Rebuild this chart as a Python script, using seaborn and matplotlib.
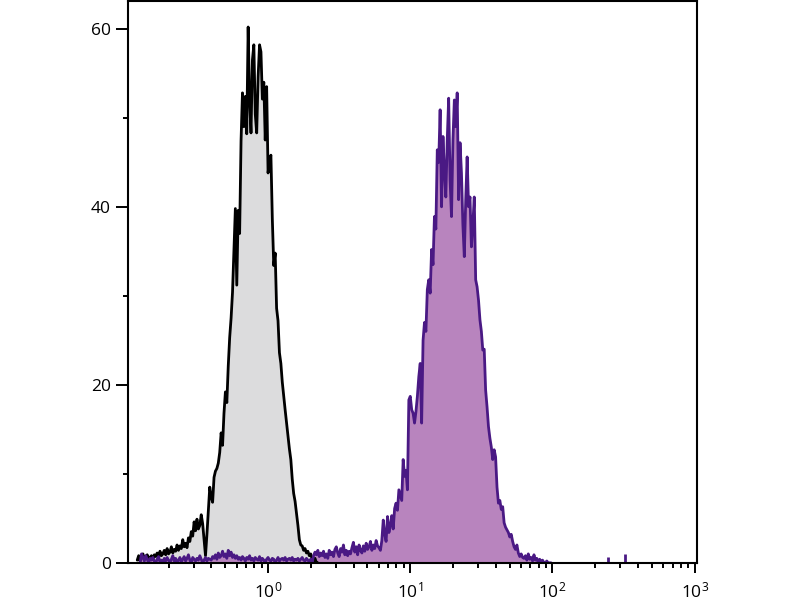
import numpy as np
import pandas as pd
import matplotlib
matplotlib.use("Agg")
import matplotlib.pyplot as plt
import seaborn as sns
from matplotlib.ticker import FixedLocator, LogLocator, NullFormatter

# histogram channels are 0.01 decade wide (log10 of intensity)
step = 0.01

# unstained / isotype control, first channel at log10 = -0.92
control_start = -0.92
control_counts = [
    0.3, 0.8, 0.2, 0.6, 1.0, 0.4, 0.7, 0.9, 0.5, 0.6,
    0.8, 0.4, 0.9, 0.7, 1.1, 0.6, 1.3, 0.8, 1.0, 1.4,
    0.9, 1.6, 1.0, 1.2, 1.8, 1.1, 1.5, 1.3, 2.0, 1.4,
    1.9, 1.6, 2.6, 1.8, 2.2, 1.7, 2.8, 2.4, 3.5, 3.0,
    4.6, 3.6, 4.9, 3.8, 4.2, 5.4, 4.4, 2.6, 0.8, 3.2,
    5.8, 8.5, 7.4, 6.8, 9.6, 10.3, 10.6, 11.2, 12.4, 14.6,
    13.2, 16.8, 19.2, 18.0, 22.1, 25.3, 27.5, 30.4, 35.2, 39.8,
    31.2, 39.6, 37.0, 47.4, 52.8, 49.0, 52.4, 48.2, 60.2, 52.0,
    48.3, 56.5, 58.2, 50.4, 48.3, 54.6, 58.2, 57.4, 52.1, 54.0,
    47.5, 53.5, 43.8, 45.2, 45.8, 38.6, 33.4, 34.8, 28.6, 27.2,
    23.6, 22.4, 20.3, 18.7, 17.2, 15.7, 14.1, 12.8, 11.6, 9.4,
    7.8, 6.9, 5.6, 4.2, 2.6, 2.0, 1.9, 1.4, 1.6, 1.1,
    1.3, 0.8, 1.0, 0.4, 0.0, 0.5, 0.0, 0.0,
]

# stained sample, first channel at log10 = -0.90
stained_start = -0.90
stained_counts = [
    0.0, 1.0, 0.6, 0.2, 0.8, 0.4, 0.0, 0.5, 0.3, 0.6,
    0.2, 0.0, 0.4, 0.7, 0.1, 0.3, 0.0, 0.5, 0.2, 0.6,
    0.3, 0.0, 0.4, 0.8, 0.2, 0.5, 0.0, 0.3, 0.6, 0.1,
    0.4, 0.7, 0.2, 0.5, 0.9, 0.3, 0.0, 0.6, 0.4, 0.2,
    0.5, 0.3, 0.8, 0.4, 0.0, 0.3, 0.6, 0.2, 0.5, 0.4,
    0.3, 0.7, 0.5, 0.9, 0.4, 1.1, 0.6, 0.8, 1.3, 0.7,
    1.0, 0.5, 1.4, 0.8, 1.2, 0.6, 0.9, 0.5, 0.8, 0.4,
    0.6, 0.3, 0.7, 0.5, 0.2, 0.6, 0.4, 0.8, 0.3, 0.5,
    0.2, 0.6, 0.4, 0.3, 0.7, 0.2, 0.5, 0.3, 0.0, 0.4,
    0.6, 0.3, 0.2, 0.5, 0.4, 0.0, 0.3, 0.6, 0.2, 0.4,
    0.5, 0.3, 0.6, 0.2, 0.4, 0.5, 0.3, 0.6, 0.2, 0.4,
    0.3, 0.5, 0.2, 0.4, 0.6, 0.3, 0.2, 0.5, 0.3, 0.1,
    0.4, 0.0, 0.8, 1.2, 0.9, 1.4, 0.7, 1.1, 0.8, 1.3,
    0.6, 1.0, 0.5, 1.4, 0.9, 1.2, 0.7, 1.5, 1.8, 1.1,
    0.7, 1.6, 1.2, 2.0, 0.9, 1.4, 0.8, 1.3, 1.0, 1.7,
    2.3, 1.2, 1.8, 0.9, 2.0, 1.4, 1.1, 1.9, 1.3, 2.2,
    1.5, 1.8, 2.4, 1.4, 2.0, 1.6, 2.5, 1.9, 1.7, 1.4,
    2.5, 4.8, 3.2, 2.4, 5.2, 3.4, 4.2, 5.3, 3.8, 6.1,
    6.7, 5.9, 8.2, 7.6, 7.0, 11.6, 9.7, 10.4, 8.2, 18.3,
    18.7, 17.2, 16.8, 15.7, 17.0, 18.7, 20.9, 22.4, 15.7, 25.0,
    27.0, 26.0, 30.7, 31.8, 30.3, 35.2, 33.5, 38.9, 37.5, 46.4,
    45.0, 50.9, 40.0, 47.9, 44.0, 41.1, 47.5, 52.2, 43.0, 38.9,
    47.5, 52.0, 49.0, 52.8, 40.8, 47.2, 43.8, 38.0, 34.4, 40.8,
    45.6, 40.0, 41.1, 35.5, 38.0, 41.1, 31.8, 31.0, 29.5, 27.3,
    26.0, 23.9, 24.0, 19.4, 17.5, 15.3, 14.0, 13.0, 11.6, 12.7,
    11.9, 8.5, 6.7, 7.0, 6.0, 6.3, 4.5, 4.0, 3.7, 3.4,
    2.9, 3.2, 2.4, 1.8, 1.5, 2.0, 1.1, 0.7, 1.0, 0.6,
    0.5, 0.8, 0.3, 1.0, 0.4, 0.6, 0.2, 0.9, 0.3, 0.5,
    0.0, 0.4, 0.0, 0.3, 0.0, 0.0, 0.2, 0.0, 0.0, 0.0,
]

# two lone stained events far out on the right
stray_log = [2.39, 2.51]
stray_counts = [0.6, 1.0]

x_ticks = [1, 10, 100, 1000]
x_tick_labels = [r"$\mathregular{10^{0}}$", r"$\mathregular{10^{1}}$",
                 r"$\mathregular{10^{2}}$", r"$\mathregular{10^{3}}$"]
y_ticks = [0, 20, 40, 60]
y_minor = [10, 30, 50]


def to_frame(start, counts):
    logs = start + step * np.arange(len(counts))
    return pd.DataFrame({"intensity": 10 ** logs, "count": counts})


control = to_frame(control_start, control_counts)
stained = to_frame(stained_start, stained_counts)

sns.set_theme(style="white")
plt.rcParams["font.family"] = ["Open Sans", "DejaVu Sans"]
plt.rcParams["mathtext.fontset"] = "custom"
plt.rcParams["mathtext.rm"] = "Open Sans"

fig = plt.figure(figsize=(8, 6), dpi=100)
ax = fig.add_axes([0.16, 0.062, 0.711, 0.936])
ax.set_xscale("log")

ax.fill_between(control["intensity"], control["count"], color="#dcdcdd", lw=0)
sns.lineplot(data=control, x="intensity", y="count", ax=ax, color="black",
             lw=2.0, estimator=None, sort=False)

ax.fill_between(stained["intensity"], stained["count"], color="#b884be", lw=0)
sns.lineplot(data=stained, x="intensity", y="count", ax=ax, color="#4a1984",
             lw=2.0, estimator=None, sort=False)
ax.vlines(10 ** np.array(stray_log), 0, stray_counts, color="#4a1984", lw=2)

ax.set_xlim(10 ** -0.985, 10 ** 3.015)
ax.set_ylim(0, 63.1)

ax.xaxis.set_major_locator(FixedLocator(x_ticks))
ax.set_xticklabels(x_tick_labels)
ax.xaxis.set_minor_locator(LogLocator(base=10, subs=np.arange(2, 10)))
ax.xaxis.set_minor_formatter(NullFormatter())
ax.set_yticks(y_ticks)
ax.yaxis.set_minor_locator(FixedLocator(y_minor))

ax.tick_params(axis="both", which="major", direction="out", color="black",
               width=1.4, labelsize=12.5, labelcolor="black")
ax.tick_params(axis="x", which="major", length=7.5, pad=6, bottom=True)
ax.tick_params(axis="y", which="major", length=8.5, pad=4, left=True)
ax.tick_params(axis="both", which="minor", direction="out", width=1.4,
               length=3.6, color="black")
ax.tick_params(axis="x", which="minor", bottom=True)
ax.tick_params(axis="y", which="minor", left=True)

for side in ["left", "right", "top", "bottom"]:
    ax.spines[side].set_visible(True)
    ax.spines[side].set_color("black")
    ax.spines[side].set_linewidth(1.5)

ax.set_xlabel("")
ax.set_ylabel("")

fig.savefig("out.png", dpi=100)
